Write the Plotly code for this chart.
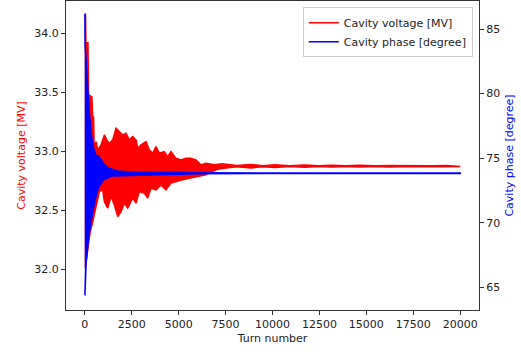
import plotly.graph_objects as go

# ---- data ----
# Cavity voltage [MV]: upper and lower envelope of the (dense) oscillating trace
volt_hi_turn = [0, 40, 60, 170, 200, 380, 420, 470, 500, 601, 691, 867, 1043, 1170, 1309, 1489,
                1665, 1840, 2021, 2197, 2372, 2553, 2729, 2819, 2995, 3261, 3436, 3617, 3793,
                3968, 4234, 4415, 4590, 4856, 5122, 5388, 5654, 5920, 6186, 6452, 6900, 7300,
                8100, 8850, 9500, 10130, 10900, 11720, 12450, 13160, 13900, 14650, 15450,
                16240, 17000, 17730, 18500, 19270, 20000]
volt_hi = [34.16, 34.16, 33.92, 33.92, 33.48, 33.46, 33.29, 33.29, 33.03, 33.081, 33.011,
           33.053, 33.138, 33.096, 33.068, 33.096, 33.195, 33.166, 33.138, 33.153, 33.096,
           33.124, 33.096, 33.025, 33.053, 33.081, 33.011, 32.983, 33.039, 32.983, 32.997,
           32.954, 32.997, 32.941, 32.926, 32.941, 32.941, 32.926, 32.884, 32.898, 32.885,
           32.893, 32.878, 32.888, 32.877, 32.885, 32.876, 32.883, 32.876, 32.881, 32.876,
           32.880, 32.876, 32.879, 32.876, 32.879, 32.876, 32.878, 32.876]
volt_lo_turn = [0, 40, 160, 280, 426, 601, 777, 957, 1043, 1223, 1399, 1574, 1755, 1931, 2106,
                2287, 2553, 2729, 2904, 3170, 3351, 3527, 3793, 4059, 4324, 4590, 4856, 5213,
                5564, 5920, 6452, 7020, 7300, 8100, 8850, 9500, 10130, 10900, 11720, 12450,
                13160, 13900, 14650, 15450, 16240, 17000, 17730, 18500, 19270, 20000]
volt_lo = [32.02, 32.02, 32.16, 32.31, 32.403, 32.517, 32.658, 32.672, 32.573, 32.517, 32.615,
           32.545, 32.446, 32.488, 32.559, 32.517, 32.602, 32.559, 32.658, 32.644, 32.602,
           32.686, 32.672, 32.714, 32.672, 32.729, 32.742, 32.757, 32.771, 32.785, 32.799,
           32.845, 32.853, 32.868, 32.858, 32.869, 32.861, 32.870, 32.863, 32.870, 32.865,
           32.870, 32.866, 32.870, 32.867, 32.870, 32.867, 32.870, 32.868, 32.870]

# Cavity phase [degree]: upper and lower envelope
phase_hi_turn = [0, 10, 20, 120, 230, 335, 457, 585, 723, 990, 1240, 1770, 2500, 4000, 6000, 20000]
phase_hi = [86.16, 86.16, 83.76, 81.05, 78.73, 76.95, 75.86, 75.24, 75.17, 74.63, 74.24, 74.0,
            73.93, 73.90, 73.86, 73.85]
phase_lo_turn = [0, 10, 70, 190, 370, 550, 720, 990, 1440, 2140, 4000, 6000, 20000]
phase_lo = [64.4, 64.4, 66.88, 68.66, 70.44, 71.76, 72.69, 73.31, 73.62, 73.66, 73.72, 73.80, 73.81]

x_ticks = [0, 2500, 5000, 7500, 10000, 12500, 15000, 17500, 20000]
volt_ticks = [32.0, 32.5, 33.0, 33.5, 34.0]
phase_ticks = [65, 70, 75, 80, 85]

RED = "#ff0000"
BLUE = "#0000ff"
FONT = "DejaVu Sans"


def band(x_hi, y_hi, x_lo, y_lo):
    xs = list(x_hi) + list(reversed(x_lo))
    ys = list(y_hi) + list(reversed(y_lo))
    return xs, ys


fig = go.Figure()

vx, vy = band(volt_hi_turn, volt_hi, volt_lo_turn, volt_lo)
fig.add_trace(go.Scatter(x=vx, y=vy, mode="lines", fill="toself", fillcolor=RED,
                         line=dict(color=RED, width=1.5), showlegend=False,
                         hoverinfo="skip", yaxis="y"))
px_, py_ = band(phase_hi_turn, phase_hi, phase_lo_turn, phase_lo)
fig.add_trace(go.Scatter(x=px_, y=py_, mode="lines", fill="toself", fillcolor=BLUE,
                         line=dict(color=BLUE, width=1.5), showlegend=False,
                         hoverinfo="skip", yaxis="y2"))

# legend entries
fig.add_trace(go.Scatter(x=[None], y=[None], mode="lines", line=dict(color=RED, width=1.5),
                         name="Cavity voltage [MV]", yaxis="y"))
fig.add_trace(go.Scatter(x=[None], y=[None], mode="lines", line=dict(color=BLUE, width=1.5),
                         name="Cavity phase [degree]", yaxis="y2"))

axis_common = dict(showgrid=False, zeroline=False, showline=True, linecolor="#333333",
                   linewidth=1, ticks="outside", ticklen=4, tickcolor="#333333",
                   tickfont=dict(family=FONT, size=11, color="#222222"))

fig.update_layout(
    width=521, height=354,
    margin=dict(l=66, r=42, t=1, b=44),
    paper_bgcolor="white", plot_bgcolor="white",
    font=dict(family=FONT, size=11, color="#222222"),
    xaxis=dict(range=[-1000, 21000], tickvals=x_ticks, tickformat="d", mirror=True,
               title=dict(text="Turn number", font=dict(family=FONT, size=11, color="#222222"),
                          standoff=4),
               **axis_common),
    yaxis=dict(range=[31.653, 34.274], tickvals=volt_ticks, tickformat=".1f",
               title=dict(text="Cavity voltage [MV]", font=dict(family=FONT, size=11, color=RED),
                          standoff=6),
               **axis_common),
    yaxis2=dict(range=[63.24, 87.17], tickvals=phase_ticks, overlaying="y", side="right",
                title=dict(text="Cavity phase [degree]", font=dict(family=FONT, size=11, color=BLUE),
                           standoff=6),
                **axis_common),
    legend=dict(x=0.985, xanchor="right", y=0.98, yanchor="top",
                bordercolor="#cccccc", borderwidth=1, bgcolor="rgba(255,255,255,0.8)",
                font=dict(family=FONT, size=11, color="#222222"), itemwidth=30,
                tracegroupgap=0),
    showlegend=True,
)

fig.write_html("out.html")
